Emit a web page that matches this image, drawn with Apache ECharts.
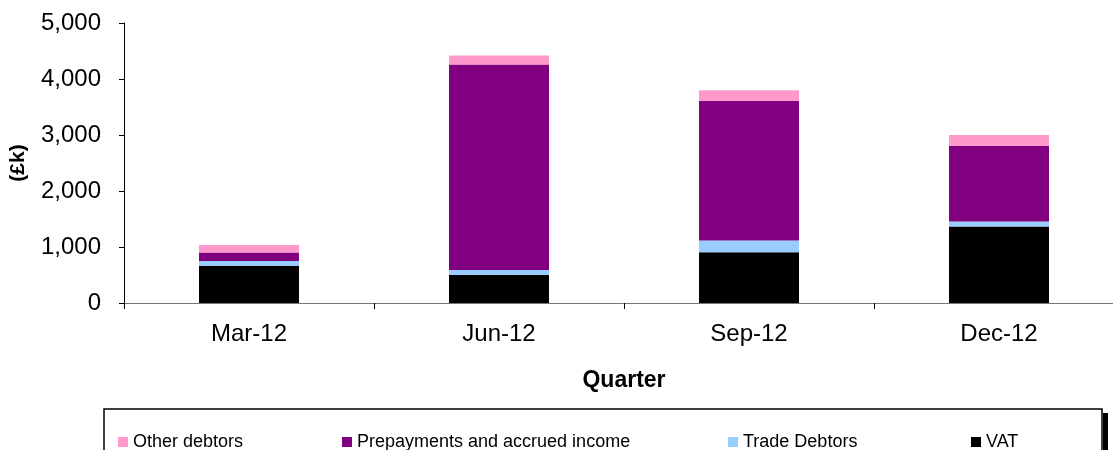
<!DOCTYPE html>
<html>
<head>
<meta charset="utf-8">
<script src="https://cdn.jsdelivr.net/npm/echarts@6/dist/echarts.min.js"></script>
<style>
  html, body { margin: 0; padding: 0; background: #fff; }
  #chart { width: 1113px; height: 450px; }
</style>
</head>
<body>
<div id="chart"></div>
<script>
// quarters and values in £k
var quarters = ['Mar-12', 'Jun-12', 'Sep-12', 'Dec-12'];
var vat = [665, 500, 905, 1365];
var tradeDebtors = [85, 90, 210, 90];
var prepayments = [150, 3670, 2495, 1355];
var otherDebtors = [135, 160, 190, 190];
var yTicks = [0, 1000, 2000, 3000, 4000, 5000];

var font = '"Liberation Sans", Arial, sans-serif';

function legendAt(name, left) {
  return {
    data: [name],
    left: left,
    top: 428,
    itemWidth: 10,
    itemHeight: 10,
    itemGap: 4,
    icon: 'rect',
    selectedMode: false,
    textStyle: { fontFamily: font, fontSize: 18, color: '#000' }
  };
}

function barSeries(name, data, color) {
  return {
    name: name,
    type: 'bar',
    stack: 'debtors',
    barWidth: 100,
    itemStyle: { color: color },
    emphasis: { disabled: true },
    data: data
  };
}

var chart = echarts.init(document.getElementById('chart'));
chart.setOption({
  animation: false,
  textStyle: { fontFamily: font },
  grid: { left: 124, top: 23, width: 1000, height: 280, containLabel: false, outerBoundsMode: 'none' },
  legend: [
    legendAt('Other debtors', 113),
    legendAt('Prepayments and accrued income', 337),
    legendAt('Trade Debtors', 723),
    legendAt('VAT', 966)
  ],
  xAxis: {
    type: 'category',
    data: quarters,
    name: 'Quarter',
    nameLocation: 'middle',
    nameGap: 66,
    nameTextStyle: { fontFamily: font, fontSize: 23, fontWeight: 'bold', color: '#000' },
    axisLine: { lineStyle: { color: '#777', width: 1 } },
    axisTick: { show: true, length: 6, lineStyle: { color: '#000' } },
    axisLabel: { fontFamily: font, fontSize: 24, color: '#000', margin: 19 }
  },
  yAxis: {
    type: 'value',
    min: yTicks[0],
    max: yTicks[yTicks.length - 1],
    interval: 1000,
    name: '(£k)',
    nameLocation: 'middle',
    nameRotate: 90,
    nameGap: 95,
    nameTextStyle: { fontFamily: font, fontSize: 21, fontWeight: 'bold', color: '#000' },
    axisLine: { show: true, lineStyle: { color: '#000', width: 1 } },
    axisTick: { show: true, length: 5, lineStyle: { color: '#000' } },
    splitLine: { show: false },
    axisLabel: {
      fontFamily: font, fontSize: 24, color: '#000', margin: 23,
      formatter: function (v) { return v.toLocaleString('en-US'); }
    }
  },
  graphic: [
    {
      type: 'rect',
      shape: { x: 104, y: 409, width: 998, height: 60 },
      style: { fill: 'none', stroke: '#000', lineWidth: 1.5 },
      silent: true,
      z: -1
    },
    {
      type: 'rect',
      shape: { x: 1103, y: 413, width: 5, height: 60 },
      style: { fill: '#000' },
      silent: true
    }
  ],
  series: [
    barSeries('VAT', vat, '#000000'),
    barSeries('Trade Debtors', tradeDebtors, '#99CCFF'),
    barSeries('Prepayments and accrued income', prepayments, '#800080'),
    barSeries('Other debtors', otherDebtors, '#FF99CC')
  ]
});
</script>
</body>
</html>
